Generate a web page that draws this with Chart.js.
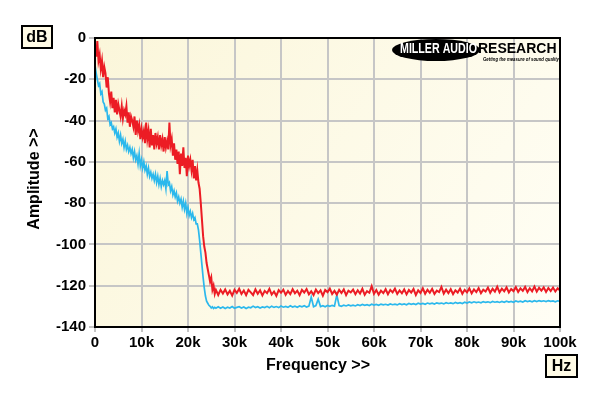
<!DOCTYPE html>
<html>
<head>
<meta charset="utf-8">
<script src="https://cdn.jsdelivr.net/npm/chart.js@4.4.1/dist/chart.umd.min.js"></script>
<style>
  html, body { margin: 0; padding: 0; background: #fff; }
  #wrap { width: 600px; height: 396px; }
</style>
</head>
<body>
<div id="wrap"><canvas id="myChart" width="600" height="396"></canvas></div>
<script>
// spectrum: 0..26 kHz every 0.25 kHz, then 26.5..100 kHz every 0.5 kHz
const lowStepKHz = 0.25;
const highStartKHz = 26.5;
const highStepKHz = 0.5;

const redLow = [
  -4, -9, -1.5, -11, -8, -15, -11, -19,
  -14, -17, -24, -19, -27, -31, -26, -34,
  -29, -36, -30, -37, -32, -35, -38, -33,
  -39, -35, -37, -33, -41, -36, -43, -38,
  -40, -43, -38, -47, -40, -45, -42, -49,
  -44, -48, -45, -51, -41, -49, -45, -53,
  -44, -52, -47, -54, -46, -51, -48, -54,
  -47, -52, -49, -55, -48, -53, -50, -54,
  -41, -52, -49, -57, -51, -59, -54, -61,
  -55, -66, -56, -62, -53, -63, -58, -67,
  -57, -62, -59, -64, -59, -68, -62, -69,
  -64, -70, -73, -80, -88, -96, -101, -104,
  -109, -112, -115, -118, -116, -122, -120, -124,
  -122
];
const redHigh = [
  -124.5, -122, -123.8, -121.8, -124.2, -122.5, -124.8, -122, -123.5, -121.5,
  -124, -122.3, -124.6, -122, -123.2, -124.5, -121.8, -123.9, -122.2, -124.7,
  -122.5, -123.6, -121.5, -124.3, -122.8, -124.9, -122.1, -123.4, -121.9, -124.4,
  -122.6, -124.1, -121.7, -123.7, -122.4, -124.6, -122, -123.3, -121.6, -124.2,
  -122.7, -124.5, -121.9, -123.6, -122.3, -124.8, -122.1, -123.1, -121.4, -124,
  -122.5, -124.3, -122, -123.5, -121.8, -124.6, -122.4, -123.2, -121.9, -124.1,
  -122.2, -123.8, -121.5, -124.4, -122.6, -123.4, -120.2, -123.9, -122.1, -124.3,
  -122.4, -123.6, -121.7, -124.1, -122, -123.2, -121.4, -124, -122.3, -123.7,
  -121.8, -124.2, -122.1, -123.3, -121.6, -124.5, -122.2, -123.5, -121.3, -123.9,
  -122, -123.4, -121.5, -124, -122.4, -123.1, -120.6, -123.8, -121.9, -123.6,
  -121.7, -124.1, -122.2, -123.3, -121.4, -123.9, -122, -123.2, -121.3, -123.7,
  -121.8, -123.1, -121.2, -123.6, -121.9, -122.8, -120.9, -123.4, -121.5, -122.9,
  -120.5, -123.2, -121.4, -122.7, -120.8, -123.3, -121.6, -122.6, -120.7, -123,
  -121.3, -122.5, -120.6, -123.1, -121.2, -122.7, -120.4, -122.9, -121, -122.4,
  -120.8, -123, -121.1, -122.6, -120.9, -122.8, -121.2, -122.3
];

const blueLow = [
  -13, -17, -20, -23, -22, -27, -26, -31,
  -32, -35, -34, -39, -38, -42, -41, -44,
  -43, -46, -44, -48, -46, -50, -47, -51,
  -49, -53, -50, -54, -52, -55, -53, -56,
  -54, -58, -55, -59, -57, -61, -56, -62,
  -59, -63, -60, -64, -62, -66, -63, -67,
  -65, -68, -66, -69, -66, -70, -67, -71,
  -68, -72, -69, -71, -69, -73, -64.5, -71,
  -70, -74, -72, -76, -74, -77, -75, -79,
  -77, -80, -78, -82, -79, -83, -80, -85,
  -82, -86, -84, -87, -85, -88, -87, -90,
  -90, -93, -98, -104, -110, -116, -121, -125,
  -127.5, -128.5, -129.5, -130, -130.8, -130.2, -131, -130.5,
  -130.9
];
const blueHigh = [
  -130.2, -130.9, -130.3, -131, -130.4, -130.8, -130.1, -130.9, -130.5, -130.2,
  -130.8, -130.3, -131, -130.4, -130.7, -129.9, -130.6, -130.2, -130.8, -130.3,
  -130.6, -130, -130.7, -129.9, -130.5, -130.1, -130.6, -129.8, -130.4, -130,
  -130.5, -129.7, -130.3, -129.9, -130.4, -129.8, -130.2, -129.7, -130.3, -129.9,
  -125.5, -130.2, -129.6, -126.5, -130.1, -129.7, -130.2, -129.6, -130, -129.5,
  -129.9, -124.5, -129.6, -130, -129.4, -129.8, -129.3, -129.7, -129.4, -129.8,
  -129.2, -129.6, -129.1, -129.5, -129.2, -129.6, -129, -129.4, -129.1, -129.5,
  -128.9, -129.3, -129, -129.4, -128.8, -129.2, -128.9, -129.3, -128.7, -129.1,
  -128.8, -129.2, -128.6, -129, -128.7, -129.1, -128.5, -128.9, -128.6, -129,
  -128.4, -128.8, -128.5, -128.9, -128.3, -128.7, -128.4, -128.8, -128.2, -128.6,
  -128.3, -128.7, -128.1, -128.5, -128.2, -128.6, -128, -128.4, -127.9, -128.3,
  -127.8, -128.2, -127.9, -128.3, -127.7, -128.1, -127.8, -128.2, -127.6, -128,
  -127.7, -128.1, -127.6, -128, -127.5, -127.9, -127.6, -128, -127.4, -127.8,
  -127.5, -127.9, -127.3, -127.7, -127.4, -127.8, -127.3, -127.7, -127.2, -127.6,
  -127.3, -127.7, -127.2, -127.6, -127.4, -127.8, -127.3, -127.6
];

const xTicksKHz = [0, 10, 20, 30, 40, 50, 60, 70, 80, 90, 100];
const yTicksDB = [0, -20, -40, -60, -80, -100, -120, -140];

const toPoints = (low, high) => [
  ...low.map((v, i) => ({ x: i * lowStepKHz, y: v })),
  ...high.map((v, i) => ({ x: highStartKHz + i * highStepKHz, y: v })),
];

const FONT = '"Liberation Sans", Arial, sans-serif';

const decorPlugin = {
  id: "decor",
  beforeDraw(chart) {
    const { ctx } = chart;
    const { left, top, right, bottom } = chart.chartArea;
    ctx.save();
    ctx.fillStyle = "#ffffff";
    ctx.fillRect(0, 0, chart.width, chart.height);
    const g = ctx.createLinearGradient(left, top, right, bottom);
    g.addColorStop(0, "#fbf6da");
    g.addColorStop(1, "#fffef5");
    ctx.fillStyle = g;
    ctx.fillRect(left, top, right - left, bottom - top);
    ctx.restore();
  },
  afterDraw(chart) {
    const { ctx } = chart;
    const { left, top, right, bottom } = chart.chartArea;
    ctx.save();

    // plot frame
    ctx.strokeStyle = "#000";
    ctx.lineWidth = 2;
    ctx.strokeRect(left, top, right - left, bottom - top);

    // unit boxes
    const box = (x, y, w, h, txt) => {
      ctx.fillStyle = "#fffbe6";
      ctx.fillRect(x, y, w, h);
      ctx.strokeStyle = "#000";
      ctx.lineWidth = 2;
      ctx.strokeRect(x, y, w, h);
      ctx.fillStyle = "#000";
      ctx.font = "bold 16px " + FONT;
      ctx.textAlign = "center";
      ctx.textBaseline = "middle";
      ctx.fillText(txt, x + w / 2, y + h / 2 + 1);
    };
    box(22, 26, 30, 22, "dB");
    box(546, 355, 31, 22, "Hz");

    // axis titles
    ctx.fillStyle = "#000";
    ctx.font = "bold 16px " + FONT;
    ctx.textAlign = "center";
    ctx.textBaseline = "middle";
    ctx.fillText("Frequency >>", 318, 366);
    ctx.save();
    ctx.translate(35, 179);
    ctx.rotate(-Math.PI / 2);
    ctx.fillText("Amplitude >>", 0, 0);
    ctx.restore();

    // logo
    ctx.fillStyle = "#000";
    ctx.beginPath();
    ctx.ellipse(436, 50, 44, 11, 0, 0, Math.PI * 2);
    ctx.fill();
    ctx.fillStyle = "#fff";
    ctx.font = "bold 14px " + FONT;
    ctx.textAlign = "left";
    ctx.textBaseline = "middle";
    ctx.fillText("MILLER AUDIO", 400, 49, 77);
    ctx.fillStyle = "#000";
    ctx.fillText("RESEARCH", 478, 49, 82);
    ctx.font = "italic bold 6px " + FONT;
    ctx.fillText("Getting the measure of sound quality", 483, 59, 76);

    ctx.restore();
  },
};

const ctx = document.getElementById("myChart").getContext("2d");
new Chart(ctx, {
  type: "line",
  data: {
    datasets: [
      {
        label: "Red",
        data: toPoints(redLow, redHigh),
        borderColor: "#ec1c24",
        borderWidth: 2,
        pointRadius: 0,
        tension: 0,
      },
      {
        label: "Blue",
        data: toPoints(blueLow, blueHigh),
        borderColor: "#2bb8ec",
        borderWidth: 1.7,
        pointRadius: 0,
        tension: 0,
      },
    ],
  },
  options: {
    responsive: false,
    animation: false,
    devicePixelRatio: 1,
    layout: { padding: { left: 0, right: 40, top: 38, bottom: 0 } },
    plugins: {
      legend: { display: false },
      tooltip: { enabled: false },
    },
    scales: {
      x: {
        type: "linear",
        min: 0,
        max: 100,
        afterFit(s) { s.height = 69; },
        afterBuildTicks(s) { s.ticks = xTicksKHz.map((v) => ({ value: v })); },
        grid: {
          color: "#c6c6c6",
          lineWidth: 2,
          tickLength: 5,
          tickColor: "#888",
          tickWidth: 1,
        },
        border: { display: false },
        ticks: {
          padding: 2,
          color: "#000",
          font: { family: FONT, size: 15, weight: "bold" },
          maxRotation: 0,
          callback: (v) => (v === 0 ? "0" : v + "k"),
        },
      },
      y: {
        min: -140,
        max: 0,
        afterFit(s) { s.width = 95; },
        afterBuildTicks(s) { s.ticks = yTicksDB.map((v) => ({ value: v })); },
        grid: {
          color: "#c6c6c6",
          lineWidth: 2,
          tickLength: 6,
          tickColor: "#888",
          tickWidth: 1,
        },
        border: { display: false },
        ticks: {
          padding: 3,
          color: "#000",
          font: { family: FONT, size: 15, weight: "bold" },
        },
      },
    },
  },
  plugins: [decorPlugin],
});
</script>
</body>
</html>
